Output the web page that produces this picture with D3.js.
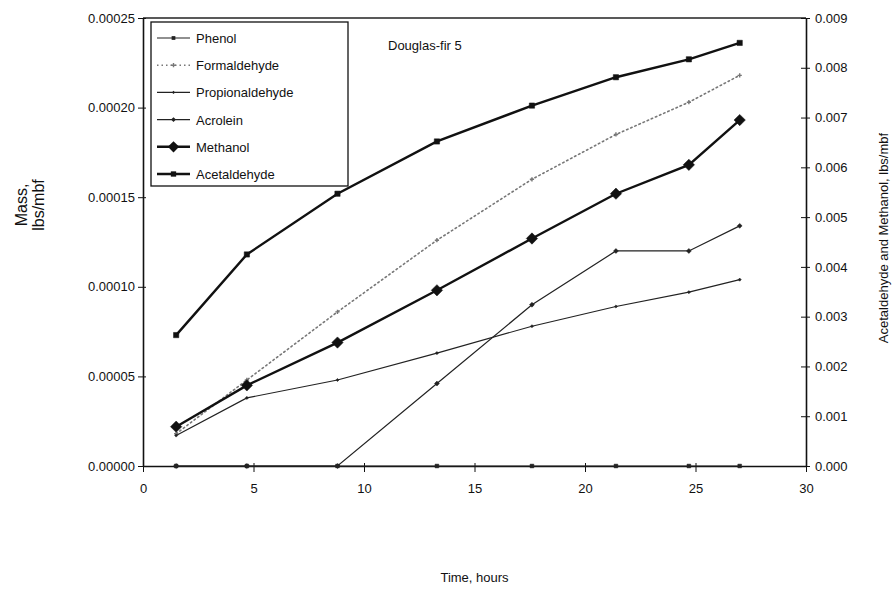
<!DOCTYPE html>
<html>
<head>
  <meta charset="utf-8">
  <title>Douglas-fir 5 emissions</title>
  <style>
    body { margin: 0; background: #fff; }
    svg text { font-family: "Liberation Sans", Arial, sans-serif; fill: #111; }
    .axis path, .axis line { stroke: #111; }
  </style>
</head>
<body>
<svg id="chart" width="896" height="600"></svg>

<script src="https://cdn.jsdelivr.net/npm/d3@7/dist/d3.min.js"></script>
<script>
  // sampling times, hours
  var hours = [1.5, 4.7, 8.8, 13.3, 17.6, 21.4, 24.7, 27.0];

  // left axis series, lbs/mbf
  var phenol          = [0, 0, 0, 0, 0, 0, 0, 0];
  var formaldehyde    = [0.000018, 0.000048, 0.000086, 0.000126, 0.000160, 0.000185, 0.000203, 0.000218];
  var propionaldehyde = [0.000017, 0.000038, 0.000048, 0.000063, 0.000078, 0.000089, 0.000097, 0.000104];
  var acrolein        = [0, 0, 0, 0.000046, 0.000090, 0.000120, 0.000120, 0.000134];

  // right axis series, lbs/mbf
  var methanol     = [0.00079, 0.00162, 0.00248, 0.00353, 0.00457, 0.00547, 0.00605, 0.00695];
  var acetaldehyde = [0.00263, 0.00425, 0.00547, 0.00652, 0.00724, 0.00781, 0.00817, 0.00850];

  var xTicks = [0, 5, 10, 15, 20, 25, 30];
  var leftTicks = [0, 0.00005, 0.0001, 0.00015, 0.0002, 0.00025];
  var rightTicks = [0, 0.001, 0.002, 0.003, 0.004, 0.005, 0.006, 0.007, 0.008, 0.009];

  var plotL = 143, plotR = 806, plotT = 18, plotB = 466;

  var svg = d3.select('#chart');

  var x = d3.scaleLinear().domain([0, 30]).range([plotL, plotR]);
  var yL = d3.scaleLinear().domain([0, 0.00025]).range([plotB, plotT]);
  var yR = d3.scaleLinear().domain([0, 0.009]).range([plotB, plotT]);

  // frame: top border
  svg.append('line')
    .attr('x1', plotL).attr('x2', plotR)
    .attr('y1', plotT).attr('y2', plotT)
    .attr('stroke', '#222').attr('stroke-width', 1.3);

  var xAxis = svg.append('g').attr('class', 'axis')
    .attr('transform', 'translate(0,' + plotB + ')')
    .call(d3.axisBottom(x).tickValues(xTicks).tickSize(6).tickSizeOuter(0).tickFormat(d3.format('d')));
  xAxis.selectAll('.tick line').attr('y1', -3);
  xAxis.selectAll('text').attr('font-size', 13).attr('dy', '1.4em');

  var lAxis = svg.append('g').attr('class', 'axis')
    .attr('transform', 'translate(' + plotL + ',0)')
    .call(d3.axisLeft(yL).tickValues(leftTicks).tickSize(5).tickSizeOuter(0).tickFormat(d3.format('.5f')));
  lAxis.selectAll('.tick line').attr('x1', 3).attr('x2', -5);
  lAxis.selectAll('text').attr('font-size', 13).attr('x', -8);

  var rAxis = svg.append('g').attr('class', 'axis')
    .attr('transform', 'translate(' + plotR + ',0)')
    .call(d3.axisRight(yR).tickValues(rightTicks).tickSize(5).tickSizeOuter(0).tickFormat(d3.format('.3f')));
  rAxis.selectAll('.tick line').attr('x1', -5).attr('x2', 4);
  rAxis.selectAll('text').attr('font-size', 13).attr('x', 9);

  svg.selectAll('.axis path').attr('stroke-width', 1.6);

  // axis titles
  svg.append('text')
    .attr('x', (plotL + plotR) / 2).attr('y', 582)
    .attr('text-anchor', 'middle').attr('font-size', 13)
    .text('Time, hours');

  var yTitle = svg.append('text')
    .attr('transform', 'translate(30,205) rotate(-90)')
    .attr('text-anchor', 'middle').attr('font-size', 16);
  yTitle.append('tspan').attr('x', 0).attr('dy', '-0.2em').text('Mass,');
  yTitle.append('tspan').attr('x', 0).attr('dy', '1.05em').text('lbs/mbf');

  svg.append('text')
    .attr('transform', 'translate(888,238) rotate(-90)')
    .attr('text-anchor', 'middle').attr('font-size', 13)
    .text('Acetaldehyde and Methanol, lbs/mbf');

  svg.append('text')
    .attr('x', 388).attr('y', 50).attr('font-size', 13)
    .text('Douglas-fir 5');

  // squat diamond: a square turned 45 degrees
  var rot = 45;

  var series = [
    { name: 'Phenol', values: phenol, y: yL, width: 1.2, color: '#222', dash: null, symbol: d3.symbolSquare, size: 14, turn: 0 },
    { name: 'Formaldehyde', values: formaldehyde, y: yL, width: 1.6, color: '#777', dash: '1.5,3', symbol: d3.symbolCross, size: 10, turn: 0 },
    { name: 'Propionaldehyde', values: propionaldehyde, y: yL, width: 1.2, color: '#222', dash: null, symbol: d3.symbolSquare, size: 5, turn: rot },
    { name: 'Acrolein', values: acrolein, y: yL, width: 1.2, color: '#222', dash: null, symbol: d3.symbolSquare, size: 12, turn: rot },
    { name: 'Methanol', values: methanol, y: yR, width: 2.4, color: '#111', dash: null, symbol: d3.symbolSquare, size: 64, turn: rot },
    { name: 'Acetaldehyde', values: acetaldehyde, y: yR, width: 2.4, color: '#111', dash: null, symbol: d3.symbolSquare, size: 28, turn: 0 }
  ];

  var plot = svg.append('g');

  series.forEach(function(s) {
    var line = d3.line()
      .x(function(d, i) { return x(hours[i]); })
      .y(function(d) { return s.y(d); });

    plot.append('path')
      .datum(s.values)
      .attr('fill', 'none')
      .attr('stroke', s.color)
      .attr('stroke-width', s.width)
      .attr('stroke-dasharray', s.dash)
      .attr('stroke-linecap', 'round')
      .attr('d', line);

    plot.selectAll(null)
      .data(s.values)
      .enter().append('path')
      .attr('transform', function(d, i) {
        return 'translate(' + x(hours[i]) + ',' + s.y(d) + ') rotate(' + s.turn + ')';
      })
      .attr('d', d3.symbol().type(s.symbol).size(s.size))
      .attr('fill', s.color)
      .attr('stroke', s.symbol === d3.symbolCross ? 'none' : s.color)
      .attr('stroke-width', 0.5);
  });

  // legend
  var legend = svg.append('g');
  legend.append('rect')
    .attr('x', 151).attr('y', 22)
    .attr('width', 197).attr('height', 164)
    .attr('fill', '#fff').attr('stroke', '#111').attr('stroke-width', 1.3);

  series.forEach(function(s, i) {
    var ly = 38 + i * 27.2;
    legend.append('line')
      .attr('x1', 157).attr('x2', 190)
      .attr('y1', ly).attr('y2', ly)
      .attr('stroke', s.color)
      .attr('stroke-width', s.width)
      .attr('stroke-dasharray', s.dash);
    legend.append('path')
      .attr('transform', 'translate(173.5,' + ly + ') rotate(' + s.turn + ')')
      .attr('d', d3.symbol().type(s.symbol).size(s.size))
      .attr('fill', s.color);
    legend.append('text')
      .attr('x', 196).attr('y', ly + 5)
      .attr('font-size', 13)
      .text(s.name);
  });
</script>
</body>
</html>
